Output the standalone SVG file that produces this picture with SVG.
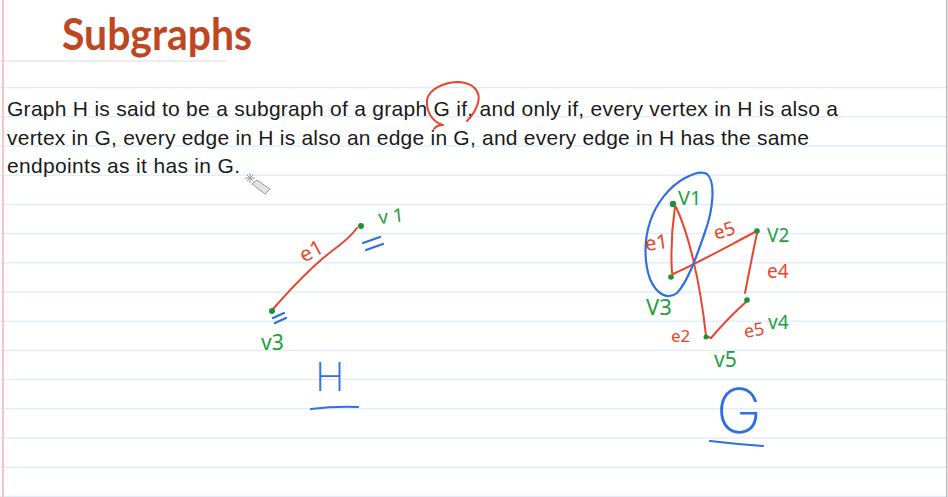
<svg xmlns="http://www.w3.org/2000/svg" width="948" height="497" viewBox="0 0 948 497">
<defs>
<style>
.rule{stroke:#e2edf8;stroke-width:1.5}
.body{font-family:"Liberation Sans",Arial,sans-serif;font-size:21px;fill:#1a1a1a}
.red{stroke:#e8452c;stroke-width:2;fill:none;stroke-linecap:round;stroke-linejoin:round}
.blue{stroke:#2f6fe4;stroke-width:2.2;fill:none;stroke-linecap:round;stroke-linejoin:round}
.dot{fill:#1f8f3a}
.gl{font-family:"Noto Sans","DejaVu Sans",sans-serif;fill:#22a040}
.rl{font-family:"Noto Sans","DejaVu Sans",sans-serif;fill:#e8452c}
.bl{font-family:"Inter","Noto Sans",sans-serif;font-weight:200;fill:#2f6fe4}
</style>
</defs>
<rect width="948" height="497" fill="#ffffff"/>
<g id="paper">
<line x1="0" y1="61" x2="227" y2="61" stroke="#dcdcdc" stroke-width="1.2"/>
<line class="rule" x1="0" y1="87.5" x2="946" y2="87.5"/>
<line class="rule" x1="0" y1="116.8" x2="946" y2="116.8"/>
<line class="rule" x1="0" y1="146" x2="946" y2="146"/>
<line class="rule" x1="0" y1="175.2" x2="946" y2="175.2"/>
<line class="rule" x1="0" y1="204.4" x2="946" y2="204.4"/>
<line class="rule" x1="0" y1="233.6" x2="946" y2="233.6"/>
<line class="rule" x1="0" y1="262.8" x2="946" y2="262.8"/>
<line class="rule" x1="0" y1="292" x2="946" y2="292"/>
<line class="rule" x1="0" y1="321.2" x2="946" y2="321.2"/>
<line class="rule" x1="0" y1="350.4" x2="946" y2="350.4"/>
<line class="rule" x1="0" y1="379.6" x2="946" y2="379.6"/>
<line class="rule" x1="0" y1="408.8" x2="946" y2="408.8"/>
<line class="rule" x1="0" y1="438" x2="946" y2="438"/>
<line class="rule" x1="0" y1="467.2" x2="946" y2="467.2"/>
<line class="rule" x1="0" y1="496.4" x2="946" y2="496.4"/>
<line x1="3" y1="0" x2="3" y2="497" stroke="#f7c4c4" stroke-width="2"/>
<line x1="946.7" y1="0" x2="946.7" y2="497" stroke="#b8b8b8" stroke-width="1.5"/>
</g>
<text x="62" y="50" font-family="Lato,'Open Sans',sans-serif" font-weight="700" font-size="44" fill="#c0461f" textLength="190" lengthAdjust="spacingAndGlyphs">Subgraphs</text>
<g id="definition">
<text class="body" x="7" y="116" textLength="831">Graph H is said to be a subgraph of a graph G if, and only if, every vertex in H is also a</text>
<text class="body" x="7" y="145" textLength="802">vertex in G, every edge in H is also an edge in G, and every edge in H has the same</text>
<text class="body" x="7" y="173" textLength="233">endpoints as it has in G.</text>
<path class="red" stroke-width="2.4" d="M434,129 C436,126 440,125 443,125 C432,122 426,111 427,100 C429,89 444,82 459,82 C474,83 481,92 478,103 C476,110 472,116 467,121"/>
</g>
<g id="cursor" stroke="#9a9a9a" stroke-width="1" fill="none">
<path d="M250,173 L250,183 M245,178 L255,178 M246.5,174.5 L253.5,181.5 M253.5,174.5 L246.5,181.5"/>
<polygon points="252,184 257,180 270,189 265,194" fill="#e4e4e4"/>
</g>
<g id="connectors">
<path id="H-e1" class="red" d="M273,309 C288,292 312,266 332,251 C343,243 351,236 357,228"/>
<path id="G-e1" class="red" d="M675,207 Q670,240 672,273"/>
<path id="G-e2" class="red" d="M676,207 C688,232 700,280 706,336 L711,338"/>
<path id="G-e3" class="red" d="M673,274 C700,262 730,245 757,231"/>
<path id="G-e4" class="red" d="M757,233 Q751,262 745,293"/>
<path id="G-e5" class="red" d="M711,338 Q728,318 747,301"/>
</g>
<g id="H">
<g id="H-v1"><circle class="dot" cx="361" cy="226" r="3"/><text class="gl" x="379" y="224" font-size="19" transform="rotate(-6 379 224)">v 1</text>
<path class="blue" d="M363,243 L380,237 M366,250 L383,244"/></g>
<g id="H-v3"><circle class="dot" cx="272" cy="311" r="3"/><text class="gl" x="261" y="350" font-size="21">v3</text>
<path class="blue" d="M273,318 L284,313 M275,323 L286,318"/></g>
<text class="rl" x="304" y="263" font-size="21" transform="rotate(-28 304 263)">e1</text>
<text class="bl" x="315" y="391" font-size="40">H</text>
<path class="blue" d="M311,409 Q335,406 358,407" stroke-width="3"/>
</g>
<g id="G">
<path class="blue" d="M707,174 C716,182 713,210 705,232 C698,252 689,280 677,293 C667,301 656,293 650,279 C644,262 644,240 650,222 C656,203 670,186 685,178 C694,173 702,171 707,174"/>
<g id="G-v1"><circle class="dot" cx="673" cy="204" r="3.2"/><text class="gl" x="678" y="205" font-size="20">V1</text></g>
<g id="G-v2"><circle class="dot" cx="757" cy="231" r="2.8"/><text class="gl" x="767" y="242" font-size="19">V2</text></g>
<g id="G-v3"><circle class="dot" cx="671" cy="277" r="2.8"/><text class="gl" x="646" y="315" font-size="22">V3</text></g>
<g id="G-v4"><circle class="dot" cx="747" cy="300" r="2.8"/><text class="gl" x="768" y="329" font-size="19">v4</text></g>
<g id="G-v5"><circle class="dot" cx="706" cy="337" r="2.5"/><text class="gl" x="714" y="367" font-size="21">v5</text></g>
<text class="rl" x="646" y="251" font-size="20" transform="rotate(-8 646 251)">e1</text>
<text class="rl" x="716" y="240" font-size="19" transform="rotate(-18 716 240)">e5</text>
<text class="rl" x="767" y="278" font-size="19">e4</text>
<text class="rl" x="671" y="342" font-size="17">e2</text>
<text class="rl" x="745" y="338" font-size="18" transform="rotate(-10 745 338)">e5</text>
<text class="bl" x="716" y="433" font-size="62">G</text>
<path class="blue" d="M710,441 Q735,444 763,446" stroke-width="3"/>
</g>
</svg>
